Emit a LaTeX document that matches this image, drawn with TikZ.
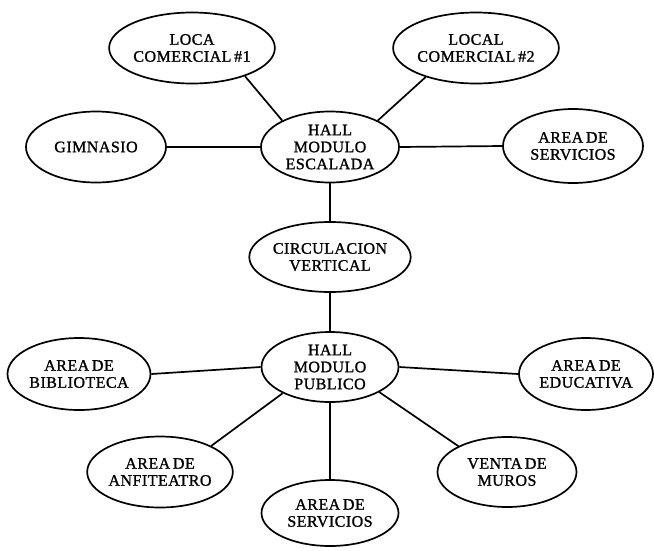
\documentclass[tikz,border=0pt]{standalone}
\usepackage{fontspec}
\setmainfont{Liberation Serif}[LetterSpace=3, FakeBold=1.2, WordSpace=0.6]
\usetikzlibrary{shapes.geometric}
\begin{document}
\begin{tikzpicture}[x=1pt,y=-1pt,
  room/.style={ellipse, draw, line width=1.7pt, inner sep=0pt,
    minimum width=#1, minimum height=71pt, align=center,
    font=\fontsize{16}{17}\selectfont},
  room/.default=139pt,
  link/.style={line width=1.7pt}]
  \useasboundingbox (0,0) rectangle (654,550);

  % upper cluster around the climbing module hall
  \node[room]        (loc1)  at (192,48)  {LOCA\\COMERCIAL \#1};
  \node[room=140pt]  (loc2)  at (476,48)  {LOCAL\\COMERCIAL \#2};
  \node[room=140pt]  (gim)   at (96,147)  {GIMNASIO};
  \node[room=138pt]  (hallE) at (330,147) {HALL\\MODULO\\ESCALADA};
  \node[room=140pt, minimum height=74pt] (servT) at (573,146) {AREA DE\\SERVICIOS};

  % vertical circulation between both halls
  \node[room=137pt, minimum height=70pt] (circ) at (330,257) {CIRCULACION\\VERTICAL};

  % lower cluster around the public module hall
  \node[room=137pt, minimum height=70pt] (hallP) at (330,367) {HALL\\MODULO\\PUBLICO};
  \node[room=143pt, minimum height=72pt] (bib)   at (79,374)  {AREA DE\\BIBLIOTECA};
  \node[room=134pt, minimum height=72pt] (edu)   at (586,374) {AREA DE\\EDUCATIVA};
  \node[room=140pt]  (anf)   at (160,472) {AREA DE\\ANFITEATRO};
  \node[room=139pt, minimum height=70pt] (venta) at (507,472) {VENTA DE\\MUROS};
  \node[room=137pt, minimum height=66pt] (servB) at (330,513) {AREA DE\\SERVICIOS};

  % connectors
  \draw[link] (loc1.-28) -- (hallE.151);
  \draw[link] (loc2.-150) -- (hallE.29);
  \draw[link] (gim.east) -- (hallE.west);
  \draw[link] (hallE.east) -- (servT.west);
  \draw[link] (hallE.south) -- (circ.north);
  \draw[link] (circ.south) -- (hallP.north);
  \draw[link] (bib.east) -- (hallP.west);
  \draw[link] (hallP.east) -- (edu.west);
  \draw[link] (hallP.-151) -- (anf.27);
  \draw[link] (hallP.-27) -- (venta.152);
  \draw[link] (hallP.south) -- (servB.north);
\end{tikzpicture}
\end{document}
